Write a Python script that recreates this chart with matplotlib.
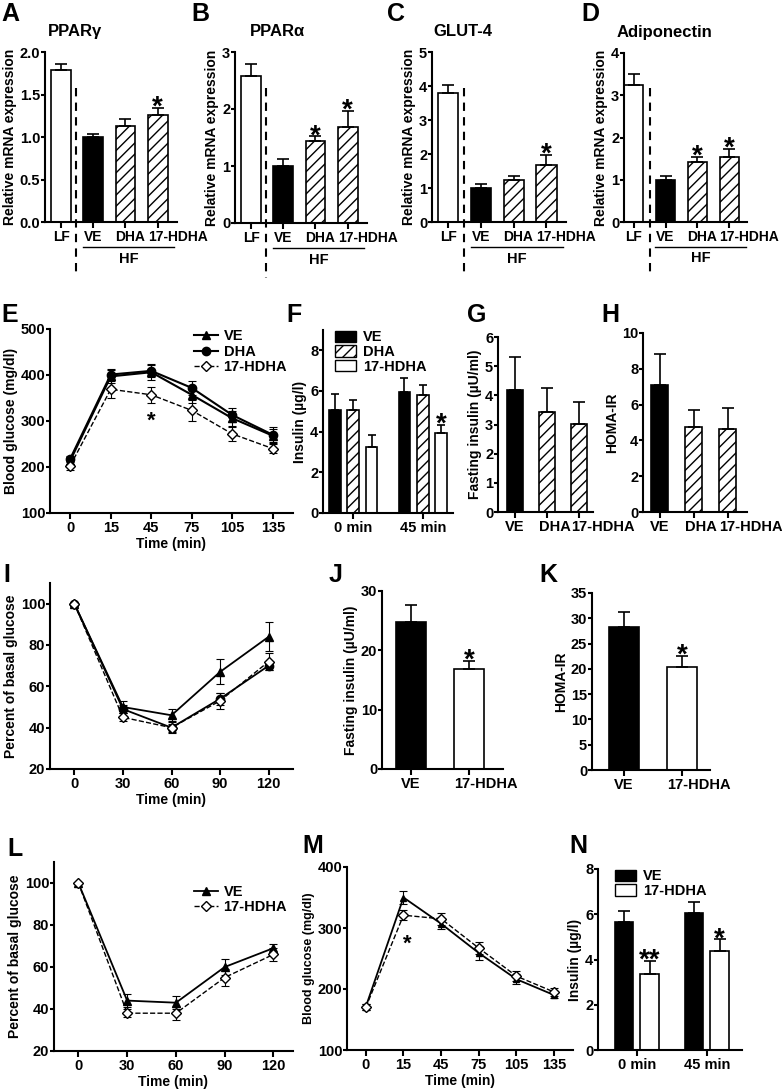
import numpy as np
import matplotlib
matplotlib.use('Agg')
import matplotlib.pyplot as plt
from matplotlib.lines import Line2D
from matplotlib.patches import Patch
from matplotlib.transforms import ScaledTranslation, blended_transform_factory

# figure size in pixels (saved at dpi 100)
W, H = 782, 1091

# ---- A-D: relative mRNA expression ----
mrna_groups = ['LF', 'VE', 'DHA', '17-HDHA']
pparg_mean = [1.79, 1.00, 1.13, 1.26]
pparg_err = [0.07, 0.035, 0.08, 0.08]
pparg_stars = ['', '', '', '*']
ppara_mean = [2.58, 1.00, 1.43, 1.68]
ppara_err = [0.21, 0.12, 0.09, 0.29]
ppara_stars = ['', '', '*', '*']
glut4_mean = [3.78, 1.00, 1.23, 1.67]
glut4_err = [0.24, 0.11, 0.12, 0.30]
glut4_stars = ['', '', '', '*']
adipo_mean = [3.24, 1.00, 1.41, 1.55]
adipo_err = [0.27, 0.10, 0.14, 0.18]
adipo_stars = ['', '', '*', '*']

# ---- E: glucose tolerance ----
gtt_times = ['0', '15', '45', '75', '105', '135']
e_ve = [214, 397, 406, 357, 306, 268]
e_ve_err = [8, 14, 16, 18, 16, 15]
e_dha = [218, 401, 409, 372, 313, 270]
e_dha_err = [7, 12, 14, 16, 15, 16]
e_hdha = [203, 369, 357, 323, 272, 240]
e_hdha_err = [10, 18, 18, 22, 15, 10]

# ---- F: insulin during GTT ----
ins_times = ['0 min', '45 min']
f_ve = [5.08, 5.95]
f_ve_err = [0.79, 0.69]
f_dha = [5.05, 5.79]
f_dha_err = [0.49, 0.49]
f_hdha = [3.25, 3.95]
f_hdha_err = [0.57, 0.39]
f_hdha_stars = ['', '*']

# ---- G, H: fasting insulin / HOMA-IR ----
diet_groups = ['VE', 'DHA', '17-HDHA']
g_mean = [4.2, 3.43, 3.03]
g_err = [1.1, 0.82, 0.75]
h_mean = [7.1, 4.75, 4.65]
h_err = [1.72, 0.97, 1.18]

# ---- I: insulin tolerance ----
itt_times = [0, 30, 60, 90, 120]
i_ve = [100, 50, 46, 67, 84]
i_ve_err = [0, 3, 3, 6, 7]
i_dha = [100, 49, 40, 54, 70]
i_dha_err = [0, 2, 2, 3, 2]
i_hdha = [100, 45, 40, 53, 72]
i_hdha_err = [0, 2, 2.5, 4, 4]

# ---- J, K ----
two_groups = ['VE', '17-HDHA']
j_mean = [24.8, 16.8]
j_err = [2.9, 1.4]
k_mean = [28.2, 20.3]
k_err = [3.0, 2.3]

# ---- L: insulin tolerance ----
l_ve = [100, 44, 43, 60, 69]
l_ve_err = [0, 3, 3, 4, 2]
l_hdha = [100, 38, 38, 55, 66]
l_hdha_err = [0, 2, 3, 4, 3]

# ---- M: glucose tolerance ----
m_ve = [171, 350, 307, 259, 216, 190]
m_ve_err = [5, 10, 8, 12, 8, 5]
m_hdha = [170, 321, 315, 267, 221, 195]
m_hdha_err = [5, 8, 10, 10, 8, 6]

# ---- N: insulin ----
n_ve = [5.67, 6.04]
n_ve_err = [0.49, 0.51]
n_hdha = [3.36, 4.38]
n_hdha_err = [0.59, 0.51]
n_stars = ['**', '*']

TICK_FS = 10.5

plt.rcParams['font.family'] = ['Liberation Sans', 'DejaVu Sans']
plt.rcParams['font.weight'] = 'bold'
plt.rcParams['axes.labelweight'] = 'bold'
plt.rcParams['font.size'] = 10
plt.rcParams['xtick.labelsize'] = TICK_FS
plt.rcParams['ytick.labelsize'] = TICK_FS
plt.rcParams['axes.linewidth'] = 1.5
plt.rcParams['xtick.major.width'] = 1.5
plt.rcParams['ytick.major.width'] = 1.5
plt.rcParams['xtick.major.size'] = 4
plt.rcParams['ytick.major.size'] = 3
plt.rcParams['xtick.major.pad'] = 2
plt.rcParams['ytick.major.pad'] = 0.5
plt.rcParams['hatch.linewidth'] = 1.0
plt.rcParams['axes.labelpad'] = 2

fig = plt.figure(figsize=(W / 100, H / 100), dpi=100)
fig.patch.set_facecolor('white')


def add_ax(l, t, r, b):
    ax = fig.add_axes([l / W, 1 - b / H, (r - l) / W, (b - t) / H])
    ax.spines['top'].set_visible(False)
    ax.spines['right'].set_visible(False)
    return ax


def letter(x, y, s):
    fig.text(x / W, 1 - y / H, s, fontsize=18, fontweight='bold', ha='left', va='top')


def draw_bars(ax, x, mean, err, fills, hatches, width, cap=4):
    bs = ax.bar(x, mean, width, color=fills, edgecolor='k', linewidth=1.2, zorder=2)
    for b, h in zip(bs, hatches):
        if h:
            b.set_hatch(h)
    ax.errorbar(x, mean, yerr=[np.zeros(len(err)), err], fmt='none', ecolor='k',
                elinewidth=1.2, capsize=cap, capthick=1.2, zorder=3)
    return bs


def stars(ax, x, mean, err, marks, size=20):
    for xi, m, e, s in zip(x, mean, err, marks):
        if s:
            ax.annotate(s, (xi, m + e), xytext=(0, -5), textcoords='offset points',
                        ha='center', va='baseline', fontsize=size, fontweight='bold')


def group_labels(ax, xs, names, left_names=(), half=0.0, fs=TICK_FS):
    # long group names start at the bar's left edge as in the original
    ax.set_xticks(xs)
    ax.set_xticklabels([])
    tr = blended_transform_factory(ax.transData, ax.transAxes) + \
        ScaledTranslation(0, -6 / 72, fig.dpi_scale_trans)
    for x, n in zip(xs, names):
        if n in left_names:
            ax.text(x - half, 0, n, transform=tr, ha='left', va='top', fontsize=fs)
        else:
            ax.text(x, 0, n, transform=tr, ha='center', va='top', fontsize=fs)


# ---------------- row 1: A-D ----------------
mrna_panels = [
    ('A', (1, 2), (45, 52, 177, 222), 'PPARγ', 0.23, pparg_mean, pparg_err, pparg_stars,
     [0, 0.5, 1.0, 1.5, 2.0], '{:.1f}', (-0.5, 3.6), 0.47),
    ('B', (191, 2), (235, 52, 367, 223), 'PPARα', 0.32, ppara_mean, ppara_err, ppara_stars,
     [0, 1, 2, 3], '{:d}', (-0.5, 3.6), 0.47),
    ('C', (387, 2), (432, 52, 566, 222), 'GLUT-4', 0.23, glut4_mean, glut4_err, glut4_stars,
     [0, 1, 2, 3, 4, 5], '{:d}', (-0.5, 3.6), 0.47),
    ('D', (581, 2), (624, 53, 747, 222), 'Adiponectin', 0.33, adipo_mean, adipo_err, adipo_stars,
     [0, 1, 2, 3, 4], '{:d}', (-0.3, 3.55), 0.5),
]
for lt, lpos, box, title, tx, mean, err, mk, yt, fmt, xl, xdiv in mrna_panels:
    ax = add_ax(*box)
    x = np.arange(len(mrna_groups))
    draw_bars(ax, x, mean, err, ['white', 'black', 'white', 'white'],
              ['', '', '///', '///'], 0.62)
    stars(ax, x, mean, err, mk)
    ax.set_xlim(*xl)
    ax.set_ylim(0, yt[-1])
    ax.set_yticks(yt)
    ax.set_yticklabels([fmt.format(v) for v in yt])
    group_labels(ax, x, mrna_groups, ['DHA', '17-HDHA'], 0.31, fs=10)
    ax.set_ylabel('Relative mRNA expression')
    ax.text(tx, 1.12, title, transform=ax.transAxes, ha='center', va='center', fontsize=12)
    tr = blended_transform_factory(ax.transData, ax.transAxes)
    ax.plot([xdiv, xdiv], [0.79, -0.32], transform=tr, clip_on=False, color='k',
            lw=1.5, ls=(0, (4, 3)))
    ax.plot([0.68, 3.52], [-0.147, -0.147], transform=tr, clip_on=False, color='k', lw=1)
    ax.text(2.1, -0.215, 'HF', transform=tr, ha='center', va='center', fontsize=TICK_FS)
    letter(lpos[0], lpos[1], lt)

# ---------------- E ----------------
ax = add_ax(50, 329, 293, 513)
xe = np.arange(len(gtt_times))
ax.errorbar(xe, e_ve, yerr=e_ve_err, color='k', marker='^', ms=6, lw=1.5,
            elinewidth=0.8, capsize=3, capthick=0.8, zorder=3)
ax.errorbar(xe, e_dha, yerr=e_dha_err, color='k', marker='o', ms=6, lw=1.5,
            elinewidth=0.8, capsize=3, capthick=0.8, zorder=3)
ax.errorbar(xe, e_hdha, yerr=e_hdha_err, color='k', marker='D', ms=5, mfc='white',
            lw=1, ls='--', elinewidth=0.8, capsize=3, capthick=0.8, zorder=4)
ax.annotate('*', (xe[2], e_hdha[2] - e_hdha_err[2]), xytext=(0, -17), textcoords='offset points',
            ha='center', va='baseline', fontsize=16, fontweight='bold')
ax.set_xlim(-0.5, 5.5)
ax.set_ylim(100, 500)
ax.set_yticks([100, 200, 300, 400, 500])
ax.set_xticks(xe)
ax.set_xticklabels(gtt_times)
ax.set_ylabel('Blood glucose (mg/dl)')
ax.set_xlabel('Time (min)', labelpad=1)
hd = [Line2D([], [], color='k', marker='^', ms=6, lw=1.5),
      Line2D([], [], color='k', marker='o', ms=6, lw=1.5),
      Line2D([], [], color='k', marker='D', ms=5, mfc='white', lw=1, ls='--')]
ax.legend(hd, ['VE', 'DHA', '17-HDHA'], loc='upper right', bbox_to_anchor=(1.0, 1.03),
          frameon=False, handlelength=1.6, handletextpad=0.4, labelspacing=0.1,
          borderaxespad=0, fontsize=TICK_FS)
letter(1, 303, 'E')

# ---------------- F ----------------
ax = add_ax(323, 330, 453, 513)
xf = np.arange(len(ins_times))
off, bw = 0.264, 0.17
draw_bars(ax, xf - off, f_ve, f_ve_err, ['black'] * 2, ['', ''], bw, cap=3)
draw_bars(ax, xf, f_dha, f_dha_err, ['white'] * 2, ['///', '///'], bw, cap=3)
draw_bars(ax, xf + off, f_hdha, f_hdha_err, ['white'] * 2, ['', ''], bw, cap=3)
stars(ax, xf + off, f_hdha, f_hdha_err, f_hdha_stars)
ax.set_xlim(-0.43, 1.43)
ax.set_ylim(0, 9)
ax.set_yticks([0, 2, 4, 6, 8])
ax.set_xticks(xf)
ax.set_xticklabels(ins_times)
ax.set_ylabel('Insulin (µg/l)')
hd = [Patch(facecolor='black', edgecolor='k'),
      Patch(facecolor='white', edgecolor='k', hatch='///'),
      Patch(facecolor='white', edgecolor='k')]
ax.legend(hd, ['VE', 'DHA', '17-HDHA'], loc='upper left', bbox_to_anchor=(0.05, 1.03),
          frameon=False, handlelength=1.4, handleheight=0.8, handletextpad=0.5,
          labelspacing=0.05, borderaxespad=0, fontsize=TICK_FS)
letter(286, 303, 'F')

# ---------------- G ----------------
ax = add_ax(498, 337, 593, 512)
xg = np.arange(len(diet_groups))
draw_bars(ax, xg, g_mean, g_err, ['black', 'white', 'white'], ['', '///', '///'], 0.5)
ax.set_xlim(-0.53, 2.44)
ax.set_ylim(0, 6)
ax.set_yticks(range(0, 7))
group_labels(ax, xg, diet_groups, ['DHA', '17-HDHA'], 0.25)
ax.set_ylabel('Fasting insulin (µU/ml)')
letter(467, 303, 'G')

# ---------------- H ----------------
ax = add_ax(643, 333, 747, 512)
draw_bars(ax, xg, h_mean, h_err, ['black', 'white', 'white'], ['', '///', '///'], 0.5)
ax.set_xlim(-0.5, 2.56)
ax.set_ylim(0, 10)
ax.set_yticks([0, 2, 4, 6, 8, 10])
group_labels(ax, xg, diet_groups, ['DHA', '17-HDHA'], 0.25)
ax.set_ylabel('HOMA-IR')
letter(601, 303, 'H')

# ---------------- I ----------------
ax = add_ax(50, 583, 293, 769)
ax.errorbar(itt_times, i_ve, yerr=i_ve_err, color='k', marker='^', ms=6, lw=1.3,
            elinewidth=0.8, capsize=3, capthick=0.8, zorder=3)
ax.errorbar(itt_times, i_dha, yerr=i_dha_err, color='k', marker='o', ms=6, lw=1.3,
            elinewidth=0.8, capsize=3, capthick=0.8, zorder=3)
ax.errorbar(itt_times, i_hdha, yerr=i_hdha_err, color='k', marker='D', ms=5, mfc='white',
            lw=1, ls='--', elinewidth=0.8, capsize=3, capthick=0.8, zorder=4)
ax.set_xlim(-15, 135)
ax.set_ylim(20, 110)
ax.set_yticks([20, 40, 60, 80, 100])
ax.set_xticks(itt_times)
ax.set_ylabel('Percent of basal glucose')
ax.set_xlabel('Time (min)', labelpad=1)
letter(3, 563, 'I')

# ---------------- J ----------------
ax = add_ax(382, 591, 503, 769)
xj = np.arange(len(two_groups))
draw_bars(ax, xj, j_mean, j_err, ['black', 'white'], ['', ''], 0.52)
stars(ax, xj, j_mean, j_err, ['', '*'])
ax.set_xlim(-0.5, 1.59)
ax.set_ylim(0, 30)
ax.set_yticks([0, 10, 20, 30])
group_labels(ax, xj, two_groups, ['17-HDHA'], 0.26)
ax.set_ylabel('Fasting insulin (µU/ml)')
letter(329, 563, 'J')

# ---------------- K ----------------
ax = add_ax(592, 593, 710, 770)
draw_bars(ax, xj, k_mean, k_err, ['black', 'white'], ['', ''], 0.52)
stars(ax, xj, k_mean, k_err, ['', '*'])
ax.set_xlim(-0.55, 1.48)
ax.set_ylim(0, 35)
ax.set_yticks(range(0, 36, 5))
group_labels(ax, xj, two_groups, ['17-HDHA'], 0.26)
ax.set_ylabel('HOMA-IR')
letter(539, 563, 'K')

# ---------------- L ----------------
ax = add_ax(54, 862, 293, 1051)
ax.errorbar(itt_times, l_ve, yerr=l_ve_err, color='k', marker='^', ms=6, lw=1.3,
            elinewidth=0.8, capsize=3, capthick=0.8, zorder=3)
ax.errorbar(itt_times, l_hdha, yerr=l_hdha_err, color='k', marker='D', ms=5, mfc='white',
            lw=1, ls='--', elinewidth=0.8, capsize=3, capthick=0.8, zorder=4)
ax.set_xlim(-15, 132)
ax.set_ylim(20, 110)
ax.set_yticks([20, 40, 60, 80, 100])
ax.set_xticks(itt_times)
ax.set_ylabel('Percent of basal glucose')
ax.set_xlabel('Time (min)', labelpad=1)
hd = [Line2D([], [], color='k', marker='^', ms=6, lw=1.3),
      Line2D([], [], color='k', marker='D', ms=5, mfc='white', lw=1, ls='--')]
ax.legend(hd, ['VE', '17-HDHA'], loc='upper right', bbox_to_anchor=(1.0, 0.91),
          frameon=False, handlelength=1.6, handletextpad=0.4, labelspacing=0.1,
          borderaxespad=0, fontsize=TICK_FS)
letter(7, 837, 'L')

# ---------------- M ----------------
ax = add_ax(347, 867, 573, 1050)
ax.errorbar(xe, m_ve, yerr=m_ve_err, color='k', marker='^', ms=5, lw=1.3,
            elinewidth=0.8, capsize=3, capthick=0.8, zorder=3)
ax.errorbar(xe, m_hdha, yerr=m_hdha_err, color='k', marker='D', ms=5, mfc='white',
            lw=1, ls='--', elinewidth=0.8, capsize=3, capthick=0.8, zorder=4)
ax.annotate('*', (xe[1], m_hdha[1] - m_hdha_err[1]), xytext=(3, -21), textcoords='offset points',
            ha='center', va='baseline', fontsize=16, fontweight='bold')
ax.set_xlim(-0.5, 5.5)
ax.set_ylim(100, 400)
ax.set_yticks([100, 200, 300, 400])
ax.set_xticks(xe)
ax.set_xticklabels(gtt_times)
ax.set_ylabel('Blood glucose (mg/dl)', fontsize=9)
ax.set_xlabel('Time (min)', labelpad=1)
letter(302, 834, 'M')

# ---------------- N ----------------
ax = add_ax(598, 869, 742, 1050)
xn = np.arange(len(ins_times))
draw_bars(ax, xn - 0.18, n_ve, n_ve_err, ['black'] * 2, ['', ''], 0.26)
draw_bars(ax, xn + 0.18, n_hdha, n_hdha_err, ['white'] * 2, ['', ''], 0.26)
stars(ax, xn + 0.18, n_hdha, n_hdha_err, n_stars)
ax.set_xlim(-0.557, 1.5)
ax.set_ylim(0, 8)
ax.set_yticks([0, 2, 4, 6, 8])
ax.set_xticks(xn)
ax.set_xticklabels(ins_times)
ax.set_ylabel('Insulin (µg/l)')
hd = [Patch(facecolor='black', edgecolor='k'), Patch(facecolor='white', edgecolor='k')]
ax.legend(hd, ['VE', '17-HDHA'], loc='upper left', bbox_to_anchor=(0.08, 1.03),
          frameon=False, handlelength=1.4, handleheight=0.8, handletextpad=0.5,
          labelspacing=0.05, borderaxespad=0, fontsize=TICK_FS)
letter(569, 834, 'N')

fig.savefig('out.png', dpi=100, facecolor='white')
